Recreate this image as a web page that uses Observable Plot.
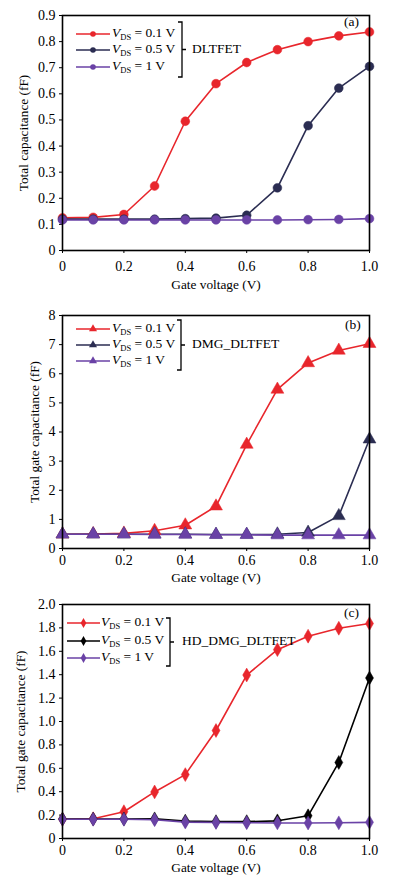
<!DOCTYPE html>
<html>
<head>
<meta charset="utf-8">
<script src="https://cdn.jsdelivr.net/npm/d3@7"></script>
<script src="https://cdn.jsdelivr.net/npm/@observablehq/plot@0.6"></script>
<style>
  html, body { margin: 0; padding: 0; background: #fff; }
  #wrap { position: relative; width: 395px; height: 880px; font-family: "Liberation Serif", "Times New Roman", serif; }
  .panel { position: absolute; left: 0; }
  .panel > svg { overflow: visible; }
  .leg { position: absolute; font-size: 13.5px; color: #000; white-space: nowrap; line-height: 1; }
  .leg sub { font-size: 8.5px; vertical-align: -3px; }
  .tag { position: absolute; font-size: 13.5px; }
  svg.overlay { position: absolute; left: 0; top: 0; pointer-events: none; }
  g[aria-label="x-axis label"] text, g[aria-label="y-axis label"] text { font-size: 13.3px; }
</style>
</head>
<body>
<div id="wrap"></div>
<script>
// ---------- data ----------
const gateVoltage = [0, 0.1, 0.2, 0.3, 0.4, 0.5, 0.6, 0.7, 0.8, 0.9, 1.0];
const seriesNames = ["0.1 V", "0.5 V", "1 V"];

// (a) DLTFET total capacitance (fF)
const dltfet_01 = [0.125, 0.127, 0.138, 0.247, 0.495, 0.639, 0.720, 0.769, 0.800, 0.822, 0.837];
const dltfet_05 = [0.120, 0.120, 0.120, 0.120, 0.122, 0.124, 0.135, 0.240, 0.478, 0.622, 0.705];
const dltfet_1  = [0.117, 0.117, 0.117, 0.117, 0.117, 0.117, 0.117, 0.117, 0.118, 0.119, 0.122];

// (b) DMG_DLTFET total gate capacitance (fF)
const dmg_01 = [0.49, 0.50, 0.52, 0.61, 0.80, 1.45, 3.57, 5.46, 6.37, 6.80, 7.03];
const dmg_05 = [0.49, 0.49, 0.49, 0.49, 0.49, 0.48, 0.48, 0.49, 0.55, 1.12, 3.75];
const dmg_1  = [0.49, 0.49, 0.49, 0.48, 0.48, 0.47, 0.47, 0.46, 0.46, 0.46, 0.46];

// (c) HD_DMG_DLTFET total gate capacitance (fF)
const hd_01 = [0.165, 0.169, 0.229, 0.398, 0.546, 0.923, 1.397, 1.614, 1.729, 1.797, 1.837];
const hd_05 = [0.167, 0.167, 0.167, 0.168, 0.149, 0.144, 0.144, 0.151, 0.194, 0.650, 1.372];
const hd_1  = [0.164, 0.164, 0.164, 0.160, 0.140, 0.137, 0.135, 0.133, 0.132, 0.134, 0.138];

const xTicks = [0, 0.2, 0.4, 0.6, 0.8, 1.0];
const yTicksA = [0, 0.1, 0.2, 0.3, 0.4, 0.5, 0.6, 0.7, 0.8, 0.9];
const yTicksB = [0, 1, 2, 3, 4, 5, 6, 7, 8];
const yTicksC = [0, 0.2, 0.4, 0.6, 0.8, 1.0, 1.2, 1.4, 1.6, 1.8, 2.0];

const colorsAB = ["#e8262c", "#2b2d52", "#6a42a6"];
const colorsC  = ["#e8262c", "#000000", "#6a42a6"];

// ---------- helpers ----------
function toRows(arrs) {
  const rows = [];
  arrs.forEach((arr, s) => arr.forEach((v, i) => rows.push({x: gateVoltage[i], y: v, s: seriesNames[s]})));
  return rows;
}
const fmt1 = d => d === 0 ? "0" : d3.format(".1f")(d);

function panel(cfg) {
  const rows = toRows(cfg.series);
  return Plot.plot({
    width: 395,
    height: cfg.height,
    marginLeft: 62,
    marginRight: 26,
    marginTop: cfg.marginTop,
    marginBottom: cfg.marginBottom,
    style: {fontFamily: "'Liberation Serif', 'Times New Roman', serif", fontSize: "14px", color: "#000", background: "transparent", overflow: "visible"},
    x: {domain: [0, 1]},
    y: {domain: cfg.yDomain},
    color: {domain: seriesNames, range: cfg.colors},
    marks: [
      Plot.axisX({ticks: xTicks, tickFormat: fmt1, tickSize: 3, tickPadding: cfg.xTickPad, label: "Gate voltage (V)", labelAnchor: "center", labelOffset: cfg.xLabelOffset, labelArrow: "none", fontSize: 14}),
      Plot.axisY({ticks: cfg.yTicks, tickFormat: cfg.yFormat, tickSize: 3, tickPadding: 4, label: cfg.yLabel, labelAnchor: "center", labelOffset: cfg.yLabelOffset, labelArrow: "none", fontSize: 14}),
      Plot.line(rows, {x: "x", y: "y", z: "s", stroke: "s", strokeWidth: 1.6}),
      Plot.dot(rows, {x: "x", y: "y", fill: "s", stroke: "s", strokeWidth: 0.5, symbol: cfg.symbol, r: cfg.r}),
      Plot.frame({stroke: "#000", strokeWidth: 1.6})
    ]
  });
}

const wrap = document.getElementById("wrap");

const panels = [
  {top: 0, height: 290, marginTop: 15, marginBottom: 40, yDomain: [0, 0.9], yTicks: yTicksA, yFormat: fmt1,
   yLabel: "Total capacitance (fF)", yLabelOffset: 44, xLabelOffset: 38, xTickPad: 8,
   series: [dltfet_01, dltfet_05, dltfet_1], colors: colorsAB, symbol: "circle", r: 4.4,
   legend: {lineX0: 76, lineX1: 110, textX: 112, rows: [34, 50, 67], braceX: 182, braceY0: 22, braceY1: 77, name: "DLTFET", nameX: 192, tag: "(a)", tagX: 344, tagY: 14, msize: 2.8}},
  {top: 290, height: 290, marginTop: 25, marginBottom: 32, yDomain: [0, 8], yTicks: yTicksB, yFormat: d => String(d),
   yLabel: "Total gate capacitance (fF)", yLabelOffset: 33, xLabelOffset: 33, xTickPad: 4,
   series: [dmg_01, dmg_05, dmg_1], colors: colorsAB, symbol: "triangle", r: 4.8,
   legend: {lineX0: 76, lineX1: 110, textX: 112, rows: [39, 55, 71], braceX: 181, braceY0: 30, braceY1: 80, name: "DMG_DLTFET", nameX: 192, tag: "(b)", tagX: 345, tagY: 27, msize: 3}},
  {top: 580, height: 300, marginTop: 24, marginBottom: 42, yDomain: [0, 2.0], yTicks: yTicksC, yFormat: fmt1,
   yLabel: "Total gate capacitance (fF)", yLabelOffset: 47, xLabelOffset: 33, xTickPad: 4,
   series: [hd_01, hd_05, hd_1], colors: colorsC, symbol: "diamond", r: 4.2,
   legend: {lineX0: 67, lineX1: 100, textX: 101, rows: [43, 61, 78], braceX: 170, braceY0: 38, braceY1: 86, name: "HD_DMG_DLTFET", nameX: 182, tag: "(c)", tagX: 344, tagY: 25, msize: 3}}
];

panels.forEach(p => {
  const box = document.createElement("div");
  box.className = "panel";
  box.style.top = p.top + "px";
  box.style.width = "395px";
  box.style.height = p.height + "px";
  const chart = panel(p);
  box.appendChild(chart);

  // legend overlay
  const L = p.legend;
  const ns = "http://www.w3.org/2000/svg";
  const ov = document.createElementNS(ns, "svg");
  ov.setAttribute("class", "overlay");
  ov.setAttribute("width", 395);
  ov.setAttribute("height", p.height);
  L.rows.forEach((ry, i) => {
    const ln = document.createElementNS(ns, "line");
    ln.setAttribute("x1", L.lineX0); ln.setAttribute("x2", L.lineX1);
    ln.setAttribute("y1", ry); ln.setAttribute("y2", ry);
    ln.setAttribute("stroke", p.colors[i]); ln.setAttribute("stroke-width", 1.6);
    ov.appendChild(ln);
    const sym = p.symbol === "circle" ? d3.symbolCircle : p.symbol === "triangle" ? d3.symbolTriangle : d3.symbolDiamond;
    const path = document.createElementNS(ns, "path");
    path.setAttribute("d", d3.symbol(sym, Math.PI * L.msize * L.msize)());
    path.setAttribute("transform", `translate(${(L.lineX0 + L.lineX1) / 2},${ry})`);
    path.setAttribute("fill", p.colors[i]);
    ov.appendChild(path);
  });
  const br = document.createElementNS(ns, "path");
  const bm = (L.braceY0 + L.braceY1) / 2;
  br.setAttribute("d", `M${L.braceX - 4},${L.braceY0} H${L.braceX} V${L.braceY1} H${L.braceX - 4} M${L.braceX},${bm} H${L.braceX + 4}`);
  br.setAttribute("fill", "none"); br.setAttribute("stroke", "#000"); br.setAttribute("stroke-width", 1.3);
  ov.appendChild(br);
  box.appendChild(ov);

  L.rows.forEach((ry, i) => {
    const t = document.createElement("div");
    t.className = "leg";
    t.style.left = L.textX + "px";
    t.style.top = (ry - 8) + "px";
    t.innerHTML = `<i>V</i><sub>DS</sub> = ${seriesNames[i]}`;
    box.appendChild(t);
  });
  const nm = document.createElement("div");
  nm.className = "leg";
  nm.style.left = L.nameX + "px";
  nm.style.top = (bm - 8) + "px";
  nm.textContent = L.name;
  box.appendChild(nm);
  const tg = document.createElement("div");
  tg.className = "tag";
  tg.style.left = L.tagX + "px";
  tg.style.top = L.tagY + "px";
  tg.textContent = L.tag;
  box.appendChild(tg);

  wrap.appendChild(box);
});
</script>
</body>
</html>
